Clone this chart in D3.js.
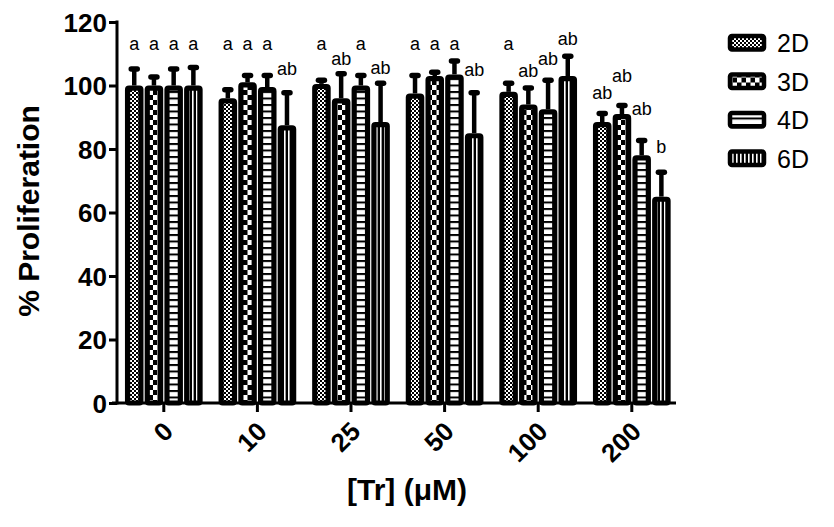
<!DOCTYPE html>
<html><head><meta charset="utf-8">
<script src="https://cdn.jsdelivr.net/npm/d3@7"></script>
<style>
body{margin:0;background:#fff;}
svg{display:block;font-family:"Liberation Sans",Arial,sans-serif;}
</style></head>
<body>
<svg id="c" width="834" height="527"></svg>
<script>
const categories = ["0","10","25","50","100","200"];
const series = ["2D","3D","4D","6D"];
const means = {
  "2D":[100,96,100.5,97.5,98,88.5],
  "3D":[100,101,96,103,94,91],
  "4D":[100,99.5,100,103.5,92.5,78],
  "6D":[100,87.5,88.5,85,103,65]
};
const errTop = {
  "2D":[105.5,99,102,103.5,101,91.5],
  "3D":[103,103.5,104,104.5,99.5,94],
  "4D":[105.5,103.5,103.5,108,102,83],
  "6D":[106,98,101,98,109.5,73]
};
const letters = {
  "2D":["a","a","a","a","a","ab"],
  "3D":["a","a","ab","a","ab","ab"],
  "4D":["a","a","a","a","ab","ab"],
  "6D":["a","ab","ab","ab","ab","b"]
};
const letterAt = {
  "2D":[113,113,113,113,113,97.5],
  "3D":[113,113,108.5,113,104.5,103],
  "4D":[113,113,113,113,108.5,92.5],
  "6D":[113,105.3,105.5,105,114.8,80.5]
};
const yTicks = [0,20,40,60,80,100,120];

const svg = d3.select("#c");
const defs = svg.append("defs");
// patterns
let p = defs.append("pattern").attr("id","p2D").attr("patternUnits","userSpaceOnUse").attr("width",4).attr("height",4);
p.append("rect").attr("width",4).attr("height",4).attr("fill","#fff");
p.append("rect").attr("width",2).attr("height",2).attr("fill","#000");
p.append("rect").attr("x",2).attr("y",2).attr("width",2).attr("height",2).attr("fill","#000");
p = defs.append("pattern").attr("id","p3D").attr("patternUnits","userSpaceOnUse").attr("width",9).attr("height",10);
p.append("rect").attr("width",9).attr("height",10).attr("fill","#fff");
p.append("rect").attr("width",4.5).attr("height",5).attr("fill","#000");
p.append("rect").attr("x",4.5).attr("y",5).attr("width",4.5).attr("height",5).attr("fill","#000");
p = defs.append("pattern").attr("id","p4D").attr("patternUnits","userSpaceOnUse").attr("width",4).attr("height",6.5);
p.append("rect").attr("width",4).attr("height",6.5).attr("fill","#fff");
p.append("rect").attr("width",4).attr("height",2).attr("fill","#000");
p = defs.append("pattern").attr("id","p6D").attr("patternUnits","userSpaceOnUse").attr("width",4).attr("height",4);
p.append("rect").attr("width",4).attr("height",4).attr("fill","#000");
p.append("rect").attr("x",0).attr("width",1.6).attr("height",4).attr("fill","#fff");

const x0 = d3.scaleBand().domain(categories).range([117,678.6]).paddingInner(0.17).paddingOuter(0.085);
const x1 = d3.scaleBand().domain(series).range([0,x0.bandwidth()]).paddingInner(0.06);
const y = d3.scaleLinear().domain([0,120]).range([403,22]);

const sw = 5.2;
const data = [];
categories.forEach((c,i)=>series.forEach(s=>data.push({c,s,v:means[s][i],e:errTop[s][i],l:letters[s][i],la:letterAt[s][i]})));

const g = svg.append("g");
// error bars
const eb = g.selectAll("g.eb").data(data).join("g");
eb.append("line")
  .attr("x1",d=>x0(d.c)+x1(d.s)+x1.bandwidth()/2).attr("x2",d=>x0(d.c)+x1(d.s)+x1.bandwidth()/2)
  .attr("y1",d=>y(d.v)).attr("y2",d=>y(d.e)).attr("stroke","#000").attr("stroke-width",4.5);
eb.append("line")
  .attr("x1",d=>x0(d.c)+x1(d.s)+x1.bandwidth()/2-3).attr("x2",d=>x0(d.c)+x1(d.s)+x1.bandwidth()/2+3)
  .attr("y1",d=>y(d.e)+1).attr("y2",d=>y(d.e)+1).attr("stroke","#000").attr("stroke-width",5.5).attr("stroke-linecap","round");
// bars
g.selectAll("rect.bar").data(data).join("rect")
  .attr("x",d=>x0(d.c)+x1(d.s)+sw/2)
  .attr("width",x1.bandwidth()-sw)
  .attr("y",d=>y(d.v)+sw/2)
  .attr("height",d=>y(0)-y(d.v)-sw/2)
  .attr("fill",d=>"url(#p"+d.s+")")
  .attr("stroke","#000").attr("stroke-width",sw).attr("rx",1.5);
// letters
g.selectAll("text.lt").data(data).join("text")
  .attr("x",d=>x0(d.c)+x1(d.s)+x1.bandwidth()/2)
  .attr("y",d=>y(d.la)+6)
  .attr("text-anchor","middle").attr("font-size",18).attr("fill","#000")
  .text(d=>d.l);

// axes
const yAxis = d3.axisLeft(y).tickValues(yTicks).tickSize(8).tickPadding(2);
const ya = svg.append("g").attr("transform","translate(117,0)").call(yAxis);
ya.select(".domain").attr("stroke-width",3).attr("d","M0,"+(y(120)-1.5)+"V"+(y(0)+1.5));
ya.selectAll(".tick line").attr("stroke-width",3);
ya.selectAll("text").attr("font-size",26).attr("font-weight","bold").attr("font-family","Liberation Sans, Arial, sans-serif").attr("dy","0.36em");

const xAxis = d3.axisBottom(x0).tickSize(9).tickSizeOuter(0);
const xa = svg.append("g").attr("transform","translate(0,403)").call(xAxis);
xa.select(".domain").attr("stroke-width",3).attr("d","M112,0H676");
xa.selectAll(".tick line").attr("stroke-width",3);
xa.selectAll("text").attr("font-size",26).attr("font-weight","bold").attr("font-family","Liberation Sans, Arial, sans-serif")
  .attr("text-anchor","end").attr("dy",null).attr("y",0)
  .attr("transform","translate(11,30) rotate(-45)");

// titles
svg.append("text").attr("transform","translate(39,211) rotate(-90)").attr("text-anchor","middle")
  .attr("font-size",30).attr("font-weight","bold").text("% Proliferation");
svg.append("text").attr("x",407).attr("y",500).attr("text-anchor","middle")
  .attr("font-size",30).attr("font-weight","bold").text("[Tr] (μM)");

// legend
const lg = svg.append("g").selectAll("g").data(series).join("g")
  .attr("transform",(d,i)=>"translate(728,"+(34+i*38.5)+")");
lg.append("rect").attr("x",2).attr("y",2).attr("width",34).attr("height",13.5).attr("rx",2)
  .attr("fill",d=>"url(#p"+d+")").attr("stroke","#000").attr("stroke-width",4.5);
lg.append("text").attr("x",49).attr("y",18).attr("font-size",25).text(d=>d);
</script>
</body></html>
